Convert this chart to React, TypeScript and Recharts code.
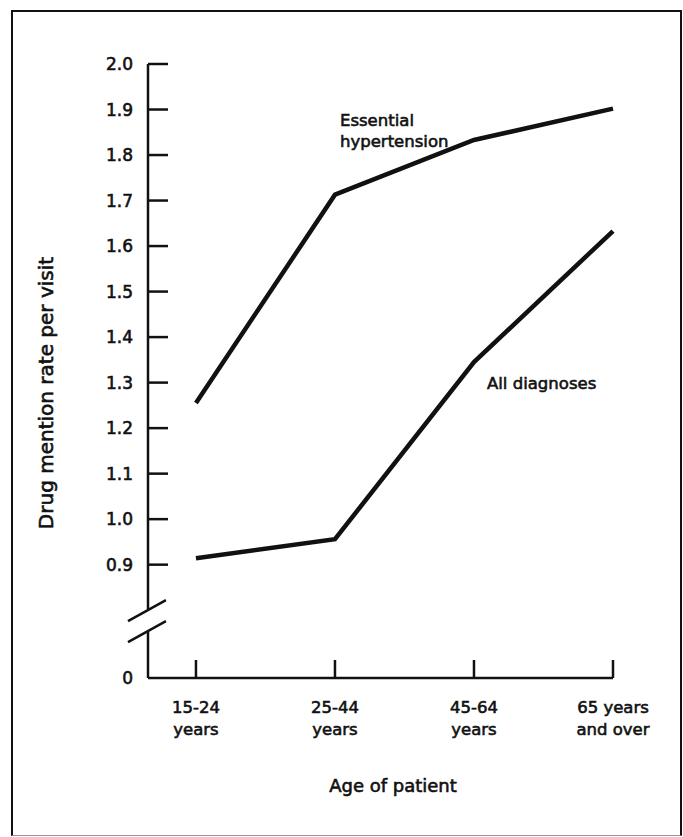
import { LineChart, Line, XAxis, YAxis, ReferenceLine } from 'recharts';

const ageGroups = [
  ['15-24', 'years'],
  ['25-44', 'years'],
  ['45-64', 'years'],
  ['65 years', 'and over'],
];
const essentialHypertension = [1.255, 1.713, 1.833, 1.902];
const allDiagnoses = [0.914, 0.956, 1.345, 1.633];
const yTicks = [0.9, 1.0, 1.1, 1.2, 1.3, 1.4, 1.5, 1.6, 1.7, 1.8, 1.9, 2.0];

// the axis is broken below 0.9; "0" sits at this plotted value
const Y_ZERO = 0.651;
const X_MIN = -0.345;

const FONT = '"DejaVu Sans", sans-serif';
const INK = '#111';

const data = ageGroups.map((g, i) => ({
  i,
  essential: essentialHypertension[i],
  all: allDiagnoses[i],
}));

const textStyle = { fontFamily: FONT, fontSize: 16.5, fill: INK, stroke: INK, strokeWidth: 0.6 };

function YTick(props: any) {
  const { x, y, payload } = props;
  const isZero = Math.abs(payload.value - Y_ZERO) < 1e-6;
  return (
    <g>
      {!isZero && <line x1={x} y1={y} x2={x + 20} y2={y} stroke={INK} strokeWidth={2.5} />}
      <text x={x - 15} y={y} dy={6} textAnchor="end" {...textStyle} fontSize={17}>
        {isZero ? '0' : payload.value.toFixed(1)}
      </text>
    </g>
  );
}

function XTick(props: any) {
  const { x, y, payload } = props;
  const [a, b] = ageGroups[payload.value];
  return (
    <g>
      <line x1={x} y1={y - 18} x2={x} y2={y} stroke={INK} strokeWidth={2.5} />
      <text x={x} y={y + 35} textAnchor="middle" {...textStyle}>
        {a}
      </text>
      <text x={x} y={y + 57} textAnchor="middle" {...textStyle}>
        {b}
      </text>
    </g>
  );
}

const axisSeg = { stroke: INK, strokeWidth: 2.5, ifOverflow: 'visible' as const };

export default function App() {
  return (
    <div style={{ position: 'absolute', left: 0, top: 0, width: 683, height: 837, background: '#fff' }}>
      <div
        style={{
          position: 'absolute',
          left: 11,
          top: 10,
          width: 667,
          height: 823,
          borderTop: '2px solid #111',
          borderLeft: '2px solid #111',
          borderRight: '2px solid #111',
          borderBottom: '1px solid #999',
        }}
      />
      <LineChart
        width={683}
        height={837}
        data={data}
        margin={{ top: 64, right: 70, left: 0, bottom: 59 }}
        style={{ position: 'absolute', left: 0, top: 0 }}
      >
        <XAxis
          dataKey="i"
          type="number"
          domain={[X_MIN, 3]}
          ticks={[0, 1, 2, 3]}
          height={100}
          tickSize={0}
          tickMargin={0}
          tickLine={false}
          axisLine={{ stroke: INK, strokeWidth: 2.5 }}
          tick={(p: any) => <XTick {...p} />}
          interval={0}
        />
        <YAxis
          type="number"
          domain={[Y_ZERO, 2.0]}
          ticks={[Y_ZERO, ...yTicks]}
          width={148}
          tickSize={0}
          tickMargin={0}
          tickLine={false}
          axisLine={false}
          tick={(p: any) => <YTick {...p} />}
          interval={0}
          allowDataOverflow
        />
        {/* broken y axis */}
        <ReferenceLine segment={[{ x: X_MIN, y: 2.0 }, { x: X_MIN, y: 0.802 }]} {...axisSeg} />
        <ReferenceLine segment={[{ x: X_MIN, y: 0.752 }, { x: X_MIN, y: Y_ZERO }]} {...axisSeg} />
        <ReferenceLine segment={[{ x: -0.489, y: 0.776 }, { x: -0.216, y: 0.822 }]} {...axisSeg} />
        <ReferenceLine segment={[{ x: -0.489, y: 0.73 }, { x: -0.216, y: 0.776 }]} {...axisSeg} />
        <Line
          dataKey="essential"
          type="linear"
          stroke={INK}
          strokeWidth={4.5}
          dot={false}
          isAnimationActive={false}
        />
        <Line
          dataKey="all"
          type="linear"
          stroke={INK}
          strokeWidth={4.5}
          dot={false}
          isAnimationActive={false}
        />
      </LineChart>
      <svg width={683} height={837} style={{ position: 'absolute', left: 0, top: 0, pointerEvents: 'none' }}>
        <text x={340} y={126} {...textStyle}>Essential</text>
        <text x={340} y={147} {...textStyle}>hypertension</text>
        <text x={487} y={389} {...textStyle}>All diagnoses</text>
        <text x={393} y={792} textAnchor="middle" {...textStyle} fontSize={18}>
          Age of patient
        </text>
        <text
          x={0}
          y={0}
          textAnchor="middle"
          transform="translate(53 393) rotate(-90)"
          {...textStyle}
          fontSize={20}
        >
          Drug mention rate per visit
        </text>
      </svg>
    </div>
  );
}
